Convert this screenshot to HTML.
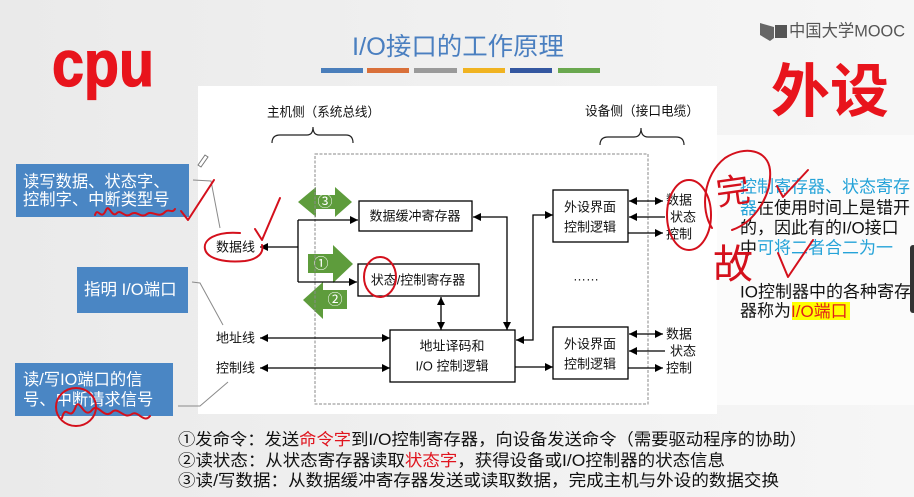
<!DOCTYPE html>
<html><head><meta charset="utf-8">
<style>
html,body{margin:0;padding:0;width:914px;height:497px;overflow:hidden;background:#f0f0f0;}
svg{display:block;}
text{font-family:"Liberation Sans","Noto Sans CJK SC",sans-serif;dominant-baseline:central;}
</style></head>
<body>
<svg width="914" height="497" viewBox="0 0 914 497" xmlns="http://www.w3.org/2000/svg">
<defs>
<linearGradient id="bg" x1="0" y1="0" x2="1" y2="0">
<stop offset="0" stop-color="#eaeaea"/><stop offset="1" stop-color="#f6f6f6"/>
</linearGradient>
<marker id="a" viewBox="0 0 10 10" refX="10" refY="5" markerWidth="8" markerHeight="8" orient="auto-start-reverse" markerUnits="userSpaceOnUse">
<path d="M0,0L10,5L0,10z" fill="#000"/>
</marker>
</defs>

<rect x="0" y="0" width="914" height="497" fill="url(#bg)"/>
<rect x="717" y="135" width="197" height="270" fill="#fbfbfb"/>
<rect x="198" y="86" width="519" height="328" fill="#ffffff"/>

<!-- title -->
<text x="352" y="47" font-size="25" fill="#4a7fc0" textLength="212" lengthAdjust="spacingAndGlyphs">I/O接口的工作原理</text>
<rect x="321" y="68" width="42" height="5" fill="#4a7ebb"/>
<rect x="367" y="68" width="42" height="5" fill="#d9703a"/>
<rect x="414" y="68" width="43" height="5" fill="#9a9a9a"/>
<rect x="463" y="68" width="42" height="5" fill="#f0b321"/>
<rect x="510" y="68" width="42" height="5" fill="#3457a0"/>
<rect x="558" y="68" width="42" height="5" fill="#6aa84f"/>

<!-- cpu / 外设 -->
<text transform="translate(52,86) scale(1,1.08)" x="0" y="0" font-size="60" font-weight="bold" fill="#e8141c" stroke="#e8141c" stroke-width="1.2" style="dominant-baseline:alphabetic" textLength="102" lengthAdjust="spacingAndGlyphs">cpu</text>
<text x="771" y="92" font-size="58" font-weight="bold" fill="#e8141c" textLength="118" lengthAdjust="spacingAndGlyphs">外设</text>

<!-- MOOC logo -->
<polygon points="760,23 774,27 774,38 770,41 760,35" fill="#666"/>
<rect x="775" y="25" width="12" height="13" fill="#555"/>
<text x="789" y="31" font-size="17" fill="#555" textLength="116" lengthAdjust="spacingAndGlyphs">中国大学MOOC</text>

<!-- brace labels -->
<text x="267" y="112" font-size="13" fill="#111" textLength="113" lengthAdjust="spacingAndGlyphs">主机侧（系统总线）</text>
<text x="585" y="111" font-size="13" fill="#111" textLength="114" lengthAdjust="spacingAndGlyphs">设备侧（接口电缆）</text>
<path d="M272,143 Q272,135 280,135 L307,135 Q313,135 313,127 Q313,135 319,135 L346,135 Q353,135 353,143" fill="none" stroke="#222" stroke-width="1.2"/>
<path d="M600,145 Q600,137 608,137 L634,137 Q641,137 641,128 Q641,137 648,137 L676,137 Q684,137 684,145" fill="none" stroke="#222" stroke-width="1.2"/>

<!-- green arrows -->
<polygon points="298,202 316,187 316,195 335,195 335,187 352,202 335,217 335,209 316,209 316,217" fill="#5e9c3c"/>
<text x="325" y="202" font-size="15" fill="#fff" text-anchor="middle">③</text>
<polygon points="308,254 333,254 333,245 353,264 333,283 333,273 308,273" fill="#5e9c3c"/>
<text x="321" y="264" font-size="15" fill="#fff" text-anchor="middle">①</text>
<polygon points="303,300 323,282 323,290 347,290 347,309 323,309 323,319" fill="#5e9c3c"/>
<text x="335" y="300" font-size="15" fill="#fff" text-anchor="middle">②</text>

<!-- dashed border -->
<rect x="315" y="154" width="333" height="250" fill="none" stroke="#8a8a8a" stroke-width="1" stroke-dasharray="3,1.5"/>

<!-- blocks -->
<g fill="#fff" stroke="#000" stroke-width="1.3">
<rect x="359" y="201" width="113" height="30"/>
<rect x="358" y="264" width="121" height="32"/>
<rect x="390" y="330" width="125" height="52"/>
<rect x="553" y="190" width="75" height="52"/>
<rect x="553" y="327" width="75" height="52"/>
</g>
<g font-size="13" fill="#111">
<text x="415" y="216" text-anchor="middle">数据缓冲寄存器</text>
<text x="418" y="280" text-anchor="middle">状态/控制寄存器</text>
<text x="452" y="346" text-anchor="middle">地址译码和</text>
<text x="452" y="366" text-anchor="middle">I/O 控制逻辑</text>
<text x="590" y="207" text-anchor="middle">外设界面</text>
<text x="590" y="227" text-anchor="middle">控制逻辑</text>
<text x="590" y="344" text-anchor="middle">外设界面</text>
<text x="590" y="364" text-anchor="middle">控制逻辑</text>
<text x="586" y="276" text-anchor="middle">……</text>
<text x="216" y="247">数据线</text>
<text x="216" y="338">地址线</text>
<text x="216" y="368">控制线</text>
<text x="666" y="200">数据</text>
<text x="670" y="217">状态</text>
<text x="666" y="234">控制</text>
<text x="666" y="334">数据</text>
<text x="670" y="351">状态</text>
<text x="666" y="368">控制</text>
</g>

<!-- connectors -->
<g fill="none" stroke="#000" stroke-width="1.3">
<path d="M298,220 L298,282"/>
<path d="M298,247 L260,247" marker-end="url(#a)"/>
<path d="M298,220 L358,220" marker-end="url(#a)"/>
<path d="M298,282 L357,282" marker-end="url(#a)"/>
<path d="M473,217 L507,217 L507,330" marker-start="url(#a)" marker-end="url(#a)"/>
<path d="M441,297 L441,330" marker-start="url(#a)" marker-end="url(#a)"/>
<path d="M260,338 L390,338" marker-start="url(#a)" marker-end="url(#a)"/>
<path d="M260,368 L390,368" marker-start="url(#a)" marker-end="url(#a)"/>
<path d="M516,340 L533,340 L533,215 L553,215" marker-start="url(#a)" marker-end="url(#a)"/>
<path d="M515,367 L553,367" marker-end="url(#a)"/>
<path d="M629,201 L663,201" marker-start="url(#a)" marker-end="url(#a)"/>
<path d="M665,217 L629,217" marker-end="url(#a)"/>
<path d="M628,233 L663,233" marker-end="url(#a)"/>
<path d="M629,334 L663,334" marker-start="url(#a)" marker-end="url(#a)"/>
<path d="M665,351 L629,351" marker-end="url(#a)"/>
<path d="M628,368 L663,368" marker-end="url(#a)"/>
</g>

<!-- left blue boxes -->
<rect x="16" y="164" width="173" height="53" fill="#4a86c4"/>
<text x="23" y="182" font-size="16.3" fill="#fff">读写数据、状态字、</text>
<text x="23" y="200" font-size="16.3" fill="#fff">控制字、中断类型号</text>
<rect x="77" y="267" width="111" height="46" fill="#4a86c4"/>
<text x="84" y="290" font-size="16.5" fill="#fff">指明 I/O端口</text>
<rect x="15" y="363" width="158" height="53" fill="#4a86c4"/>
<text x="23" y="380" font-size="16.3" fill="#fff">读/写IO端口的信</text>
<text x="23" y="400" font-size="16.3" fill="#fff">号、中断请求信号</text>

<!-- gray leader lines -->
<g fill="none" stroke="#8a8a8a" stroke-width="1">
<path d="M193,180 L211,181 L220,228"/>
<path d="M192,282 L200,283 L223,325"/>
<path d="M178,406 L200,406 L228,382"/>
</g>
<!-- pencil -->
<path d="M198,165 L205,155 L208,157 L201,167 Z" fill="none" stroke="#777" stroke-width="1"/>

<!-- right text -->
<g font-size="17">
<text x="740" y="187" fill="#25a3d8">控制寄存器、状态寄存</text>
<text x="740" y="208" fill="#111"><tspan fill="#25a3d8">器</tspan>在使用时间上是错开</text>
<text x="740" y="228" fill="#111">的，因此有的I/O接口</text>
<text x="740" y="248" fill="#25a3d8"><tspan fill="#111">中</tspan>可将二者合二为一</text>
<text x="740" y="292" fill="#111">IO控制器中的各种寄存</text>
<rect x="792" y="302" width="58" height="18" fill="#ffff00"/>
<text x="740" y="311" fill="#111">器称为<tspan fill="#e0201a">I/O端口</tspan></text>
</g>
<rect x="910" y="245" width="6" height="68" rx="3" fill="#333"/>

<!-- bottom text -->
<g font-size="16.5" fill="#111">
<text x="178" y="440" textLength="629" lengthAdjust="spacingAndGlyphs">①发命令：发送<tspan fill="#e0141e">命令字</tspan>到I/O控制寄存器，向设备发送命令（需要驱动程序的协助）</text>
<text x="178" y="461" textLength="547" lengthAdjust="spacingAndGlyphs">②读状态：从状态寄存器读取<tspan fill="#e0141e">状态字</tspan>，获得设备或I/O控制器的状态信息</text>
<text x="178" y="481" textLength="601" lengthAdjust="spacingAndGlyphs">③读/写数据：从数据缓冲寄存器发送或读取数据，完成主机与外设的数据交换</text>
</g>

<!-- red handwriting annotations -->
<g fill="none" stroke="#d4101c" stroke-width="2" stroke-linecap="round" stroke-linejoin="round">
<path d="M95,215 C98,206 101,222 106,210 C109,203 112,219 117,213 C121,209 125,219 131,214 C137,210 141,219 147,214 C153,210 158,219 165,212 C169,208 172,214 175,209"/>
<path d="M181,211 L188,220 L214,180"/>
<path d="M255,229 L262,240 L280,198"/>
<path d="M240,233 C215,231 203,240 205,249 C207,259 225,263 245,261 C258,259 264,253 262,245"/>
<ellipse cx="380" cy="277" rx="16" ry="20"/>
<ellipse cx="689" cy="215" rx="22" ry="35"/>
<path d="M712,228 C700,210 703,175 725,158 C745,145 768,150 770,170 C772,195 755,222 732,230"/>
<path d="M777,186 L783,197 L808,170"/>
<path d="M778,253 L788,277 L813,240"/>
<ellipse cx="76" cy="407" rx="20" ry="19"/>
<path d="M62,418 C66,402 70,424 76,406 C80,398 84,420 92,410 C98,402 104,420 112,412 C118,406 124,420 132,414 C138,410 144,424 150,416"/>
</g>
<text x="716" y="192" font-size="34" fill="#d4101c" font-weight="normal" transform="rotate(-8 733 192)">完</text>
<text x="713" y="265" font-size="40" fill="#d4101c" font-weight="normal">故</text>
</svg>
</body></html>
